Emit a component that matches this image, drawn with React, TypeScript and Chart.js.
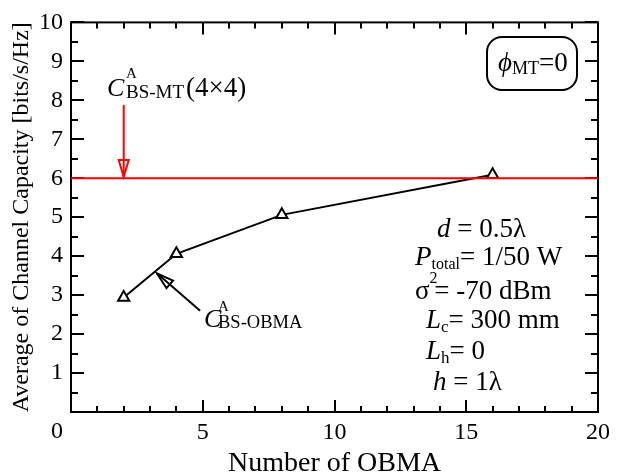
import { useEffect, useRef } from "react";
import { Chart, registerables } from "chart.js";

Chart.register(...registerables);

// ---- data ----
const obmaCounts = [2, 4, 8, 16];
const capacityOBMA = [2.94, 4.06, 5.06, 6.09];
const capacityMT = [6.0, 6.0];
const mtLineX = [0, 20];
const xTickStep = 5;
const yTickStep = 1;

const FAMILY = '"Liberation Serif", "Times New Roman", serif';

type Run = { t: string; size: number; italic?: boolean; dy?: number; adv?: number };

function drawRuns(ctx: CanvasRenderingContext2D, x: number, y: number, runs: Run[], color = "#000") {
  let cx = x;
  ctx.save();
  ctx.fillStyle = color;
  ctx.textBaseline = "alphabetic";
  ctx.textAlign = "left";
  for (const r of runs) {
    ctx.font = `${r.italic ? "italic " : ""}${r.size}px ${FAMILY}`;
    ctx.fillText(r.t, cx, y + (r.dy || 0));
    cx += ctx.measureText(r.t).width * (r.adv === undefined ? 1 : r.adv);
  }
  ctx.restore();
}

function arrow(
  ctx: CanvasRenderingContext2D,
  x1: number, y1: number, x2: number, y2: number,
  color: string
) {
  const ang = Math.atan2(y2 - y1, x2 - x1);
  const len = 17;
  const hw = 5;
  ctx.save();
  ctx.strokeStyle = color;
  ctx.lineWidth = 2;
  ctx.beginPath();
  ctx.moveTo(x1, y1);
  ctx.lineTo(x2, y2);
  ctx.stroke();
  const bx = x2 - Math.cos(ang) * len;
  const by = y2 - Math.sin(ang) * len;
  const nx = -Math.sin(ang) * hw;
  const ny = Math.cos(ang) * hw;
  ctx.beginPath();
  ctx.moveTo(x2, y2);
  ctx.lineTo(bx + nx, by + ny);
  ctx.lineTo(bx - nx, by - ny);
  ctx.closePath();
  ctx.stroke();
  ctx.restore();
}

const framePlugin = {
  id: "framePlugin",
  beforeDatasetsDraw(chart: any) {
    const ctx: CanvasRenderingContext2D = chart.ctx;
    const { left, right, top, bottom } = chart.chartArea;
    const xs = chart.scales.x;
    const ys = chart.scales.y;
    ctx.save();
    ctx.strokeStyle = "#000";
    ctx.lineWidth = 2;
    ctx.strokeRect(left, top, right - left, bottom - top);
    ctx.beginPath();
    for (let v = xs.min; v <= xs.max + 1e-9; v += 1) {
      const px = Math.round(xs.getPixelForValue(v));
      const len = v % xTickStep === 0 ? 12 : 6;
      ctx.moveTo(px, bottom);
      ctx.lineTo(px, bottom - len);
      ctx.moveTo(px, top);
      ctx.lineTo(px, top + len);
    }
    for (let v = ys.min; v <= ys.max + 1e-9; v += 0.5) {
      const py = Math.round(ys.getPixelForValue(v));
      const len = Number.isInteger(v) ? 13 : 7;
      ctx.moveTo(left, py);
      ctx.lineTo(left + len, py);
      ctx.moveTo(right, py);
      ctx.lineTo(right - len, py);
    }
    ctx.stroke();

    // origin label shared by both axes
    ctx.fillStyle = "#000";
    ctx.font = `24px ${FAMILY}`;
    ctx.textAlign = "right";
    ctx.textBaseline = "top";
    ctx.fillText("0", left - 8, bottom + 8);
    ctx.restore();
  },
  afterDraw(chart: any) {
    const ctx: CanvasRenderingContext2D = chart.ctx;
    const xs = chart.scales.x;
    const ys = chart.scales.y;
    const P = (xv: number, yv: number) => [xs.getPixelForValue(xv), ys.getPixelForValue(yv)];

    // C^A_BS-MT (4x4) label and red arrow
    drawRuns(ctx, 107, 96, [{ t: "C", size: 26, italic: true }]);
    drawRuns(ctx, 126, 78, [{ t: "A", size: 15 }]);
    drawRuns(ctx, 126, 98, [{ t: "BS-MT", size: 19 }]);
    drawRuns(ctx, 186, 96, [{ t: "(4×4)", size: 27 }]);
    const [ax1, ay1] = P(2, 7.88);
    const [ax2, ay2] = P(2, 6.03);
    arrow(ctx, ax1, ay1, ax2, ay2, "#ff0000");

    // C^A_BS-OBMA label and arrow
    const [bx1, by1] = P(4.9, 2.6);
    const [bx2, by2] = P(3.26, 3.56);
    arrow(ctx, bx1, by1, bx2, by2, "#000");
    drawRuns(ctx, 204, 327, [{ t: "C", size: 26, italic: true }]);
    drawRuns(ctx, 218, 311, [{ t: "A", size: 15 }]);
    drawRuns(ctx, 218, 328, [{ t: "BS-OBMA", size: 18.5 }]);

    // phi_MT = 0 box
    ctx.save();
    ctx.strokeStyle = "#000";
    ctx.lineWidth = 2;
    ctx.beginPath();
    (ctx as any).roundRect(487, 37, 90, 53, 15);
    ctx.stroke();
    ctx.restore();
    drawRuns(ctx, 498, 71, [
      { t: "ϕ", size: 27, italic: true },
      { t: "MT", size: 18, dy: 3 },
      { t: "=0", size: 27 },
    ]);

    // parameter block
    drawRuns(ctx, 437, 237, [
      { t: "d", size: 27, italic: true },
      { t: " = 0.5λ", size: 27 },
    ]);
    drawRuns(ctx, 415, 265, [
      { t: "P", size: 27, italic: true },
      { t: "total", size: 16, dy: 4 },
      { t: "= 1/50 W", size: 27 },
    ]);
    drawRuns(ctx, 415, 299, [
      { t: "σ", size: 27 },
      { t: "2", size: 16, dy: -16, adv: 0.6 },
      { t: "= -70 dBm", size: 27 },
    ]);
    drawRuns(ctx, 426, 328, [
      { t: "L", size: 27, italic: true },
      { t: "c", size: 17, dy: 4 },
      { t: "= 300 mm", size: 27 },
    ]);
    drawRuns(ctx, 426, 359, [
      { t: "L", size: 27, italic: true },
      { t: "h", size: 17, dy: 4 },
      { t: "= 0", size: 27 },
    ]);
    drawRuns(ctx, 433, 390, [
      { t: "h", size: 27, italic: true },
      { t: " = 1λ", size: 27 },
    ]);
  },
};

export default function App() {
  const ref = useRef<HTMLCanvasElement | null>(null);

  useEffect(() => {
    document.body.style.margin = "0";
    const canvas = ref.current;
    if (!canvas) return;
    const chart = new Chart(canvas, {
      type: "scatter",
      data: {
        datasets: [
          {
            label: "C BS-MT (4x4)",
            data: mtLineX.map((x, i) => ({ x, y: capacityMT[i] })),
            showLine: true,
            borderColor: "#ff0000",
            borderWidth: 2,
            pointRadius: 0,
            fill: false,
          },
          {
            label: "C BS-OBMA",
            data: obmaCounts.map((x, i) => ({ x, y: capacityOBMA[i] })),
            showLine: true,
            borderColor: "#000",
            borderWidth: 2,
            pointStyle: "triangle",
            pointRadius: 6.5,
            pointBorderWidth: 2,
            pointBackgroundColor: "#fff",
            pointBorderColor: "#000",
            fill: false,
          },
        ],
      },
      options: {
        animation: false,
        responsive: false,
        devicePixelRatio: 1,
        layout: { padding: { top: 19, right: 24, left: 0, bottom: 0 } },
        plugins: { legend: { display: false }, tooltip: { enabled: false } },
        scales: {
          x: {
            type: "linear",
            min: 0,
            max: 20,
            grid: { display: false, drawTicks: false },
            border: { display: false },
            ticks: {
              stepSize: xTickStep,
              padding: 6,
              color: "#000",
              font: { family: FAMILY, size: 24 },
              callback: (v: any) => (v === 0 ? "" : String(v)),
            },
            title: {
              display: true,
              text: "Number of OBMA",
              color: "#000",
              font: { family: FAMILY, size: 28, lineHeight: 0.714 },
              padding: { top: 0, bottom: 0 },
            },
            afterFit: (s: any) => {
              s.height = 62;
            },
          },
          y: {
            type: "linear",
            min: 0,
            max: 10,
            grid: { display: false, drawTicks: false },
            border: { display: false },
            ticks: {
              stepSize: yTickStep,
              padding: 8,
              color: "#000",
              font: { family: FAMILY, size: 24 },
              callback: (v: any) => (v === 0 ? "" : String(v)),
            },
            title: {
              display: true,
              text: "Average of Channel Capacity [bits/s/Hz]",
              color: "#000",
              font: { family: FAMILY, size: 24 },
              padding: { top: 7, bottom: 7 },
            },
            afterFit: (s: any) => {
              s.width = 71;
            },
          },
        },
      },
      plugins: [framePlugin],
    } as any);
    return () => chart.destroy();
  }, []);

  return (
    <div style={{ position: "absolute", left: 0, top: 0, width: 622, height: 474, background: "#fff" }}>
      <canvas ref={ref} width={622} height={474} style={{ width: 622, height: 474, display: "block" }} />
    </div>
  );
}
